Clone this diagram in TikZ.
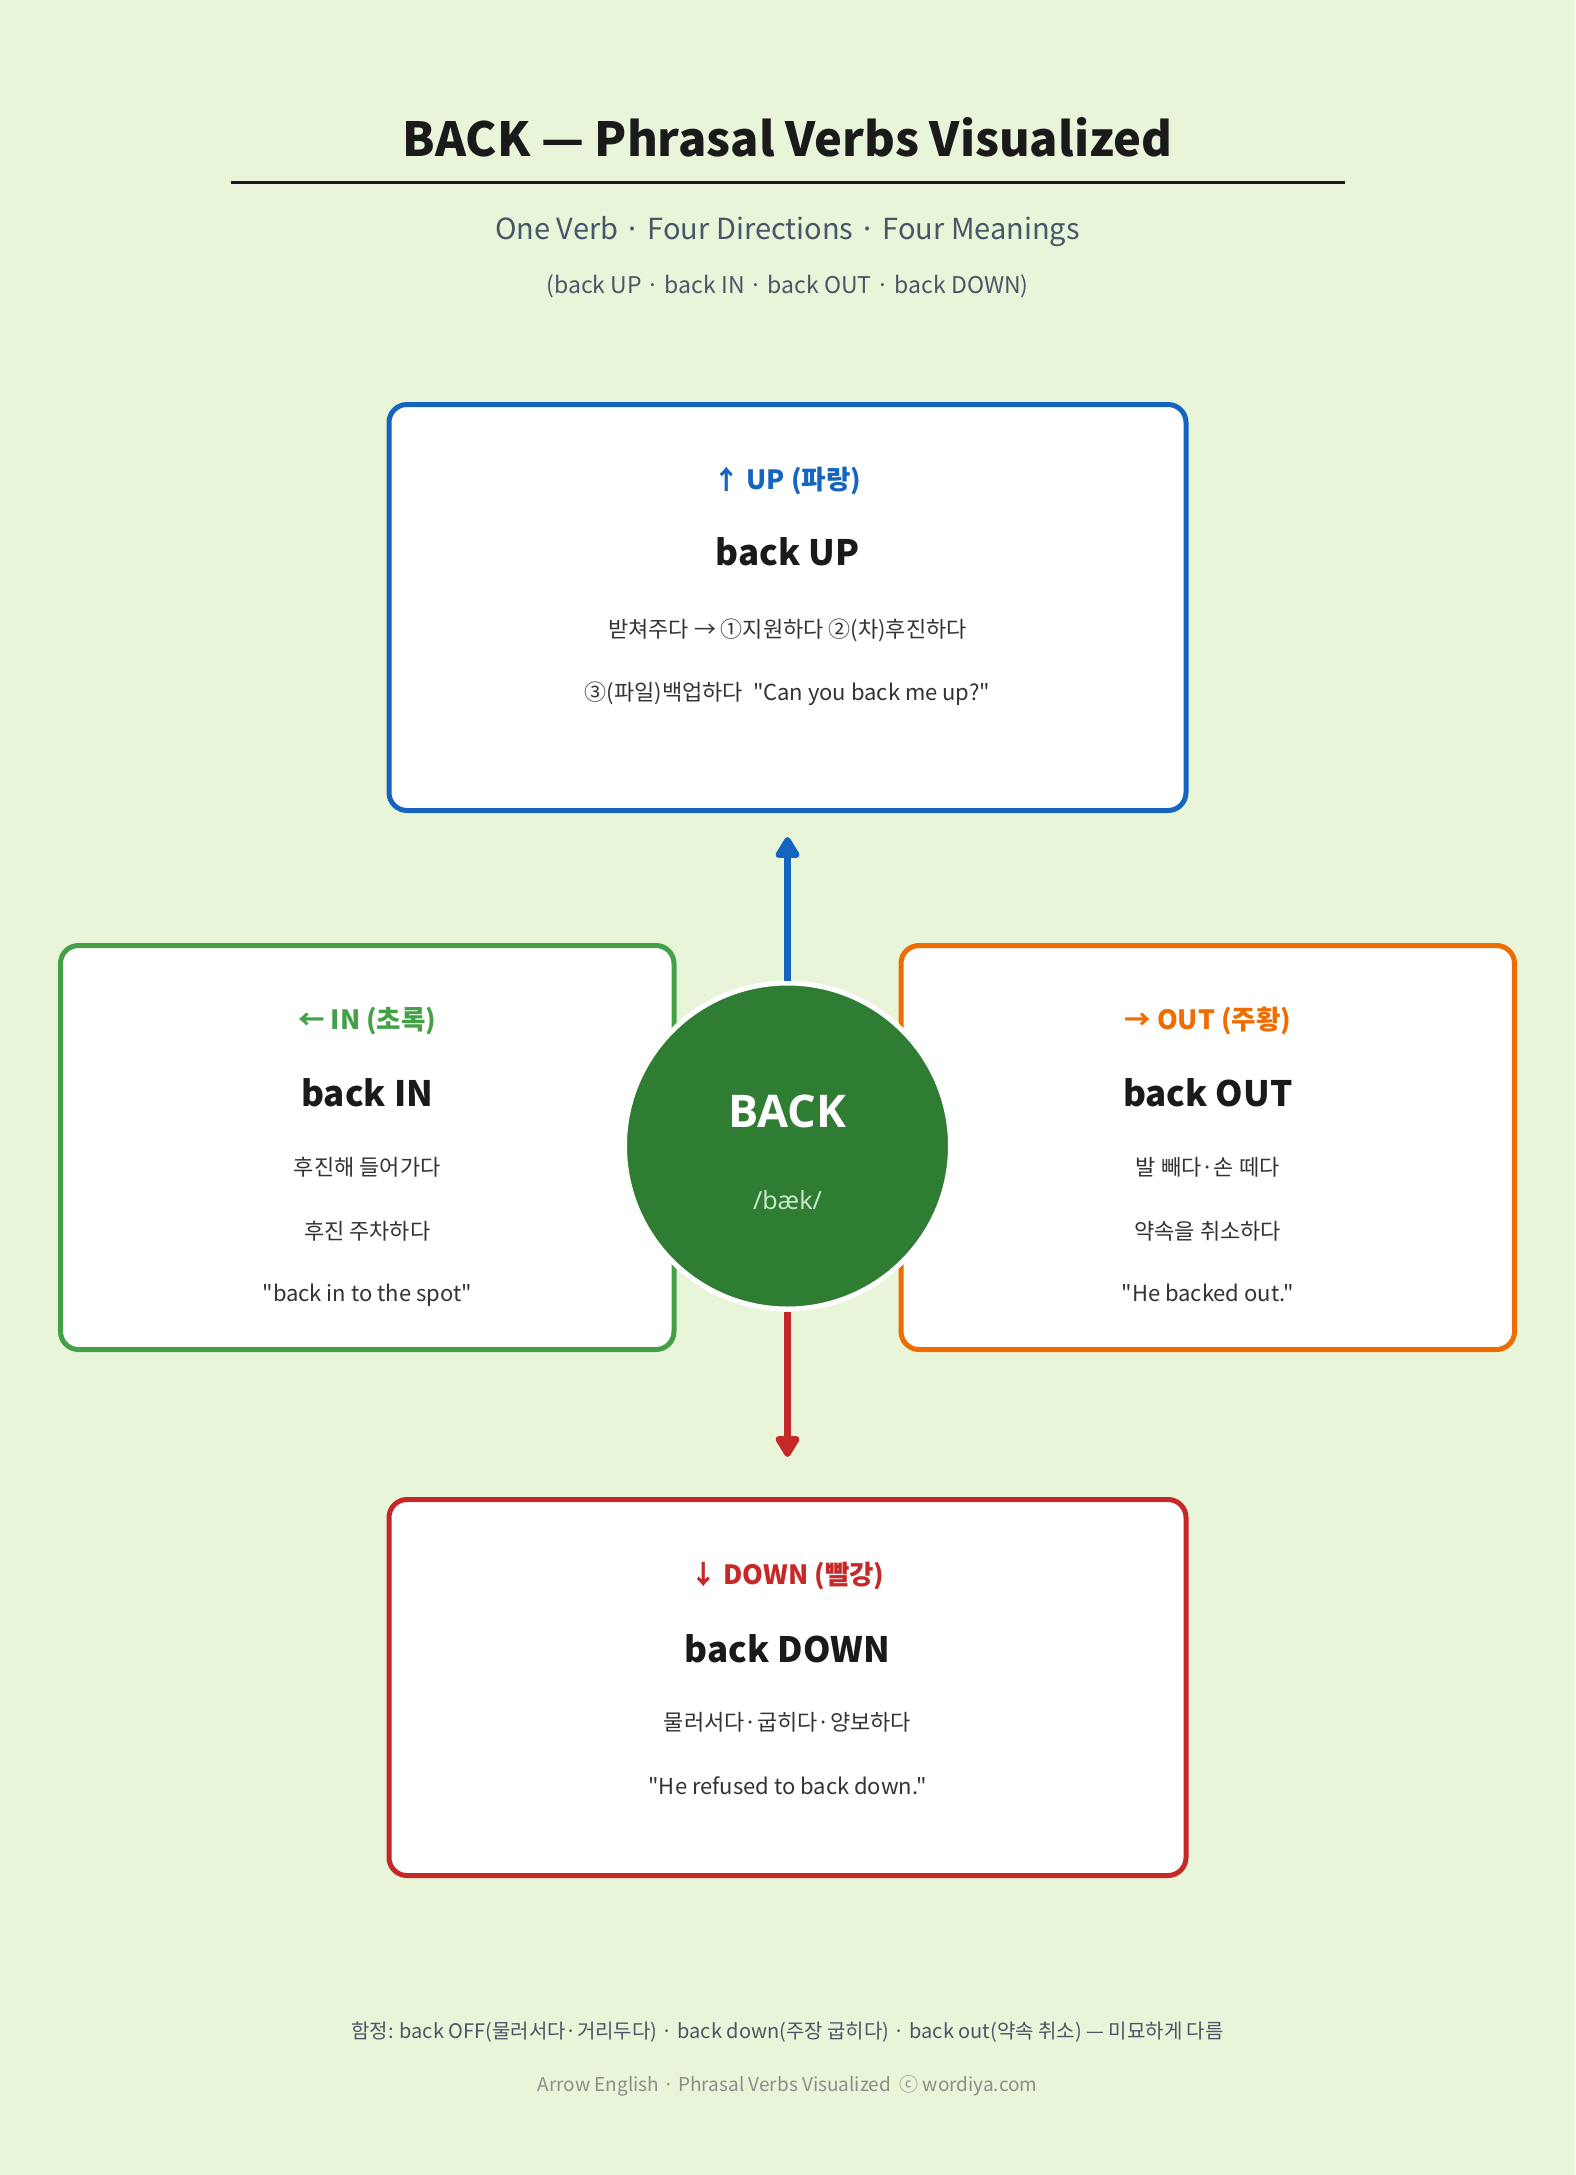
\documentclass[tikz,border=0pt]{standalone}
\usepackage{fontspec}
\setmainfont{Noto Sans CJK KR}[Ligatures=TeXOff]
\newfontfamily\notosans{Noto Sans}
\IfFontExistsTF{Open Sans Bold}
  {\newfontfamily\coreb{Open Sans Bold}}
  {\newfontfamily\coreb{Noto Sans CJK KR Bold}}
\usetikzlibrary{arrows.meta}
\definecolor{bg}{HTML}{E8F5D9}
\definecolor{ink}{HTML}{1A1A1A}
\definecolor{subc}{HTML}{4A5568}
\definecolor{body}{HTML}{333333}
\definecolor{foot}{HTML}{8A9088}
\definecolor{cblue}{HTML}{1565C0}
\definecolor{cgreen}{HTML}{43A047}
\definecolor{corange}{HTML}{EF6C00}
\definecolor{cred}{HTML}{C62828}
\definecolor{cdark}{HTML}{2E7D32}
\definecolor{pale}{HTML}{C8E6C9}
\newcommand\fsz[1]{\fontsize{#1}{#1}\selectfont}
\begin{document}
\begin{tikzpicture}[x=1pt,y=-1pt,
  txt/.style={anchor=base, inner sep=0pt, outer sep=0pt},
  card/.style={draw=#1, fill=white, line width=5pt, rounded corners=18pt, inner sep=0pt},
  lbl/.style={txt, font=\fsz{26.5}\bfseries, text=#1},
  ttl/.style={txt, font=\fsz{35}\bfseries, text=ink},
  bdy/.style={txt, font=\fsz{22}, text=body},
  conn/.style={line width=7pt, draw=#1, -{Triangle[length=24pt,width=27pt,round]}, fill=#1}
]
\fill[bg] (0,0) rectangle (1575,2175);
\useasboundingbox (0,0) rectangle (1575,2175);

% header
\node[txt, font=\fsz{47}\bfseries, text=ink] (title) at (787.5,157) {BACK — Phrasal Verbs Visualized};
\coordinate (ruleL) at (231,183);
\coordinate (ruleR) at (1345,183);
\draw[ink, line width=3pt] (ruleL) -- (ruleR);
\node[txt, font=\fsz{29}, text=subc] (sub1) at (787.5,240) {One Verb · Four Directions · Four Meanings};
\node[txt, font=\fsz{23}, text=subc] (sub2) at (787.5,293) {(back UP · back IN · back OUT · back DOWN)};

% cards
\node[card=cblue, minimum width=797pt, minimum height=406pt] (up) at (787.5,607.5) {};
\node[card=cgreen, minimum width=613.5pt, minimum height=404pt] (in) at (367.25,1147.5) {};
\node[card=corange, minimum width=613.5pt, minimum height=404pt] (out) at (1207.75,1147.5) {};
\node[card=cred, minimum width=797pt, minimum height=376pt] (down) at (787.5,1687.5) {};

% UP texts
\node[lbl=cblue] (uplbl) at (787.5,489) {↑ UP (파랑)};
\node[ttl] (upttl) at (787.5,565) {back UP};
\node[bdy] (up1) at (787.5,637) {받쳐주다 → ①지원하다 ②(차)후진하다};
\node[bdy] (up2) at (787.5,700) {③(파일)백업하다\ \ "Can you back me up?"};

% IN texts
\node[lbl=cgreen] (inlbl) at (367.25,1029) {← IN (초록)};
\node[ttl] (inttl) at (367.25,1106) {back IN};
\node[bdy] (in1) at (367.25,1175) {후진해 들어가다};
\node[bdy] (in2) at (367.25,1239) {후진 주차하다};
\node[bdy] (in3) at (367.25,1301) {"back in to the spot"};

% OUT texts
\node[lbl=corange] (outlbl) at (1207.75,1029) {→ OUT (주황)};
\node[ttl] (outttl) at (1207.75,1106) {back OUT};
\node[bdy] (out1) at (1207.75,1175) {발 빼다·손 떼다};
\node[bdy] (out2) at (1207.75,1239) {약속을 취소하다};
\node[bdy] (out3) at (1207.75,1301) {"He backed out."};

% DOWN texts
\node[lbl=cred] (dnlbl) at (787.5,1584) {↓ DOWN (빨강)};
\node[ttl] (dnttl) at (787.5,1662) {back DOWN};
\node[bdy] (dn1) at (787.5,1730) {물러서다·굽히다·양보하다};
\node[bdy] (dn2) at (787.5,1794) {"He refused to back down."};

% center
\node[circle, fill=cdark, draw=white, line width=5pt, minimum size=326pt, inner sep=0pt] (core) at (787.5,1146) {};
\node[txt, font=\coreb\fsz{45}, text=white] (coreword) at (787.5,1127) {BACK};
\node[txt, font=\notosans\fsz{25}, text=pale] (coreipa) at (787.5,1209) {/bæk/};

% connectors
\draw[conn=cblue, shorten >=24pt] (core) -- (up);
\draw[conn=cred, shorten >=40pt] (core) -- (down);

% footer
\node[txt, font=\fsz{20}, text=subc] (foot1) at (787.5,2038) {함정: back OFF(물러서다·거리두다) · back down(주장 굽히다) · back out(약속 취소) — 미묘하게 다름};
\node[txt, font=\fsz{19}, text=foot] (foot2) at (787.5,2091) {Arrow English · Phrasal Verbs Visualized\ \ ⓒ wordiya.com};
\end{tikzpicture}
\end{document}
